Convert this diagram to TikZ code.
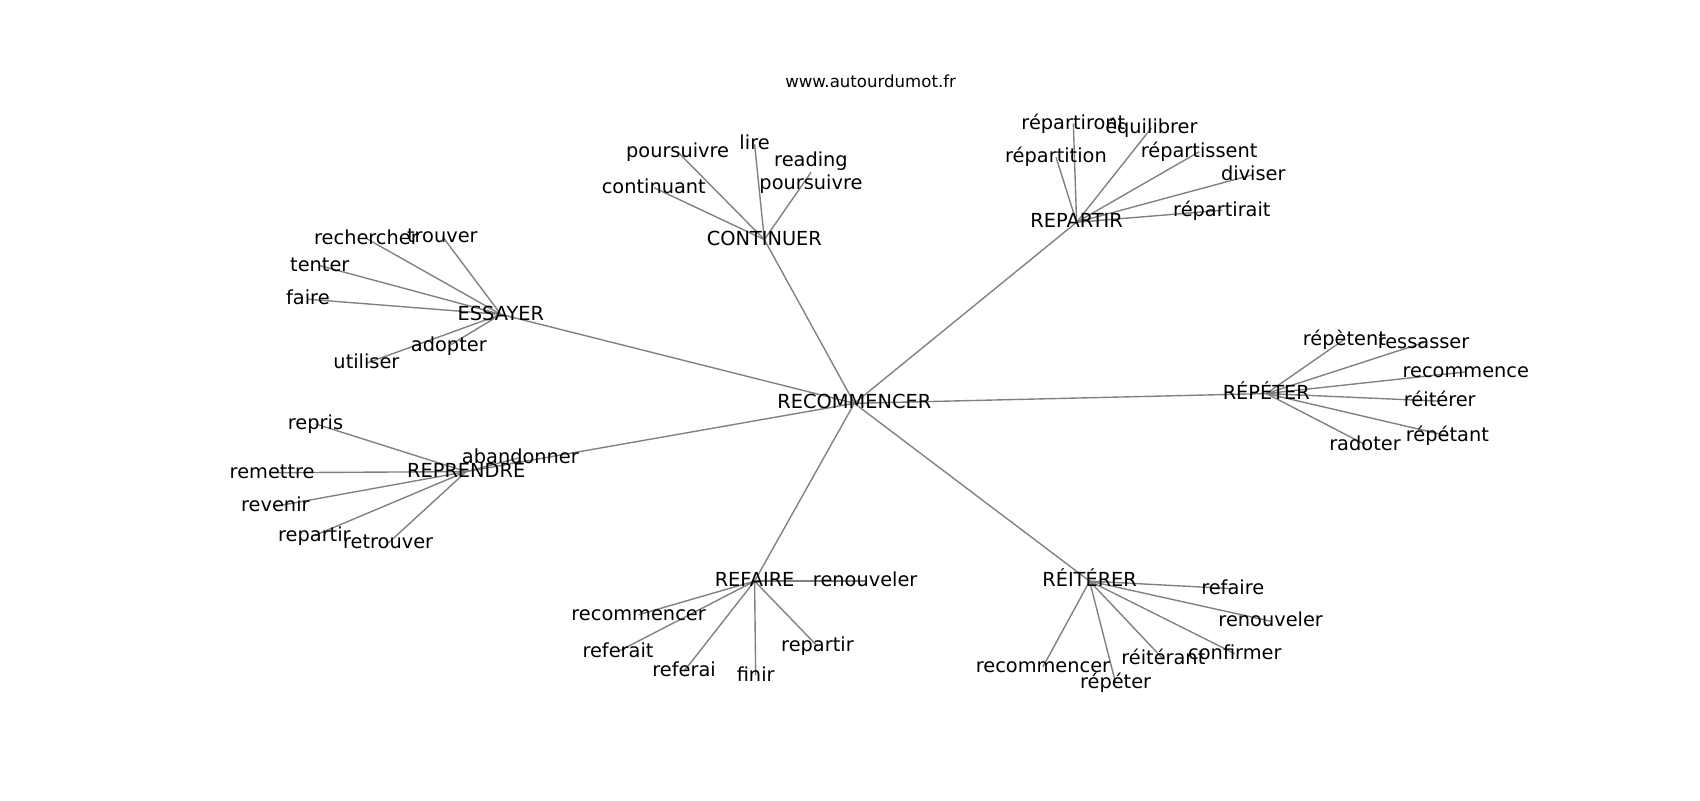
\documentclass[tikz,border=0pt]{standalone}
\usepackage{fontspec}
\setmainfont{DejaVu Sans}
\usetikzlibrary{backgrounds}

\begin{document}
\begin{tikzpicture}[x=0.010842in, y=-0.010842in]
 \tikzstyle{mot}=[inner sep=0pt, text=black, align=center, font=\fontsize{14}{16.8}\selectfont, text height=11.6pt, text depth=3.4pt]
 \tikzstyle{deuxmots}=[inner sep=0pt, text=black, align=center, font=\fontsize{14}{16.8}\selectfont]
 \tikzstyle{marque}=[inner sep=0pt, text=black, font=\fontsize{12}{14.4}\selectfont, text height=10.6pt, text depth=2.9pt]
 \tikzstyle{lien}=[gray, line width=1pt]
 \useasboundingbox (0,0) rectangle (1568,738);
 %
 \node[marque] (site) at (803, 76) {www.autourdumot.fr};
 %
 \node[mot] (REC) at (788, 372) {RECOMMENCER};
 \node[mot] (ESS) at (462, 290) {ESSAYER};
 \node[mot] (CONT) at (705, 221) {CONTINUER};
 \node[mot] (REPA) at (993, 205) {REPARTIR};
 \node[mot] (REPE) at (1168, 363) {RÉPÉTER};
 \node[mot] (REIT) at (1005, 536) {RÉITÉRER};
 \node[mot] (REFA) at (696, 536) {REFAIRE};
 \node[mot] (REPR) at (430, 435) {REPRENDRE};
 %
 \node[mot] (Cpours) at (625, 140) {poursuivre};
 \node[mot] (Clire) at (696, 133) {lire};
 \node[deuxmots] (Cread) at (748, 159) {reading\\poursuivre};
 \node[mot] (Ccont) at (603, 173) {continuant};
 %
 \node[mot] (Ront) at (990, 114) {répartiront};
 \node[mot] (Requi) at (1062, 118) {équilibrer};
 \node[mot] (Rtion) at (974, 145) {répartition};
 \node[mot] (Rsent) at (1106, 140) {répartissent};
 \node[mot] (Rdiv) at (1156, 161) {diviser};
 \node[mot] (Rait) at (1127, 194) {répartirait};
 %
 \node[mot] (Pent) at (1240, 313) {répètent};
 \node[mot] (Pres) at (1313, 316) {ressasser};
 \node[mot] (Prec) at (1352, 343) {recommence};
 \node[mot] (Preit) at (1328, 370) {réitérer};
 \node[mot] (Pant) at (1335, 402) {répétant};
 \node[mot] (Prad) at (1259, 410) {radoter};
 %
 \node[mot] (Iref) at (1137, 543) {refaire};
 \node[mot] (Iren) at (1172, 573) {renouveler};
 \node[mot] (Iconf) at (1139, 603) {confirmer};
 \node[mot] (Iant) at (1073, 608) {réitérant};
 \node[mot] (Irep) at (1029, 630) {répéter};
 \node[mot] (Irec) at (962, 615) {recommencer};
 %
 \node[mot] (Fren) at (798, 536) {renouveler};
 \node[mot] (Frec) at (589, 567) {recommencer};
 \node[mot] (Fait) at (570, 601) {referait};
 \node[mot] (Fai) at (631, 619) {referai};
 \node[mot] (Ffin) at (697, 623) {finir};
 \node[mot] (Frep) at (754, 596) {repartir};
 %
 \node[mot] (Dab) at (480, 422) {abandonner};
 \node[mot] (Dris) at (291, 391) {repris};
 \node[mot] (Dmet) at (251, 436) {remettre};
 \node[mot] (Dven) at (254, 467) {revenir};
 \node[mot] (Dpar) at (290, 494) {repartir};
 \node[mot] (Dtrou) at (358, 501) {retrouver};
 %
 \node[mot] (Erech) at (338, 220) {rechercher};
 \node[mot] (Etrou) at (408, 218) {trouver};
 \node[mot] (Eten) at (295, 245) {tenter};
 \node[mot] (Efai) at (284, 276) {faire};
 \node[mot] (Eadop) at (414, 319) {adopter};
 \node[mot] (Eutil) at (338, 335) {utiliser};
 %%
 \begin{scope}[on background layer]
 \draw[lien] (REC.center)--(ESS.center);
 \draw[lien] (REC.center)--(CONT.center);
 \draw[lien] (REC.center)--(REPA.center);
 \draw[lien] (REC.center)--(REPE.center);
 \draw[lien] (REC.center)--(REIT.center);
 \draw[lien] (REC.center)--(REFA.center);
 \draw[lien] (REC.center)--(REPR.center);
 %
 \draw[lien] (CONT.center)--(Cpours.center);
 \draw[lien] (CONT.center)--(Clire.center);
 \draw[lien] (CONT.center)--(Cread.center);
 \draw[lien] (CONT.center)--(Ccont.center);
 %
 \draw[lien] (REPA.center)--(Ront.center);
 \draw[lien] (REPA.center)--(Requi.center);
 \draw[lien] (REPA.center)--(Rtion.center);
 \draw[lien] (REPA.center)--(Rsent.center);
 \draw[lien] (REPA.center)--(Rdiv.center);
 \draw[lien] (REPA.center)--(Rait.center);
 %
 \draw[lien] (REPE.center)--(Pent.center);
 \draw[lien] (REPE.center)--(Pres.center);
 \draw[lien] (REPE.center)--(Prec.center);
 \draw[lien] (REPE.center)--(Preit.center);
 \draw[lien] (REPE.center)--(Pant.center);
 \draw[lien] (REPE.center)--(Prad.center);
 %
 \draw[lien] (REIT.center)--(Iref.center);
 \draw[lien] (REIT.center)--(Iren.center);
 \draw[lien] (REIT.center)--(Iconf.center);
 \draw[lien] (REIT.center)--(Iant.center);
 \draw[lien] (REIT.center)--(Irep.center);
 \draw[lien] (REIT.center)--(Irec.center);
 %
 \draw[lien] (REFA.center)--(Fren.center);
 \draw[lien] (REFA.center)--(Frec.center);
 \draw[lien] (REFA.center)--(Fait.center);
 \draw[lien] (REFA.center)--(Fai.center);
 \draw[lien] (REFA.center)--(Ffin.center);
 \draw[lien] (REFA.center)--(Frep.center);
 %
 \draw[lien] (REPR.center)--(Dab.center);
 \draw[lien] (REPR.center)--(Dris.center);
 \draw[lien] (REPR.center)--(Dmet.center);
 \draw[lien] (REPR.center)--(Dven.center);
 \draw[lien] (REPR.center)--(Dpar.center);
 \draw[lien] (REPR.center)--(Dtrou.center);
 %
 \draw[lien] (ESS.center)--(Erech.center);
 \draw[lien] (ESS.center)--(Etrou.center);
 \draw[lien] (ESS.center)--(Eten.center);
 \draw[lien] (ESS.center)--(Efai.center);
 \draw[lien] (ESS.center)--(Eadop.center);
 \draw[lien] (ESS.center)--(Eutil.center);
 \end{scope}
\end{tikzpicture}
\end{document}
